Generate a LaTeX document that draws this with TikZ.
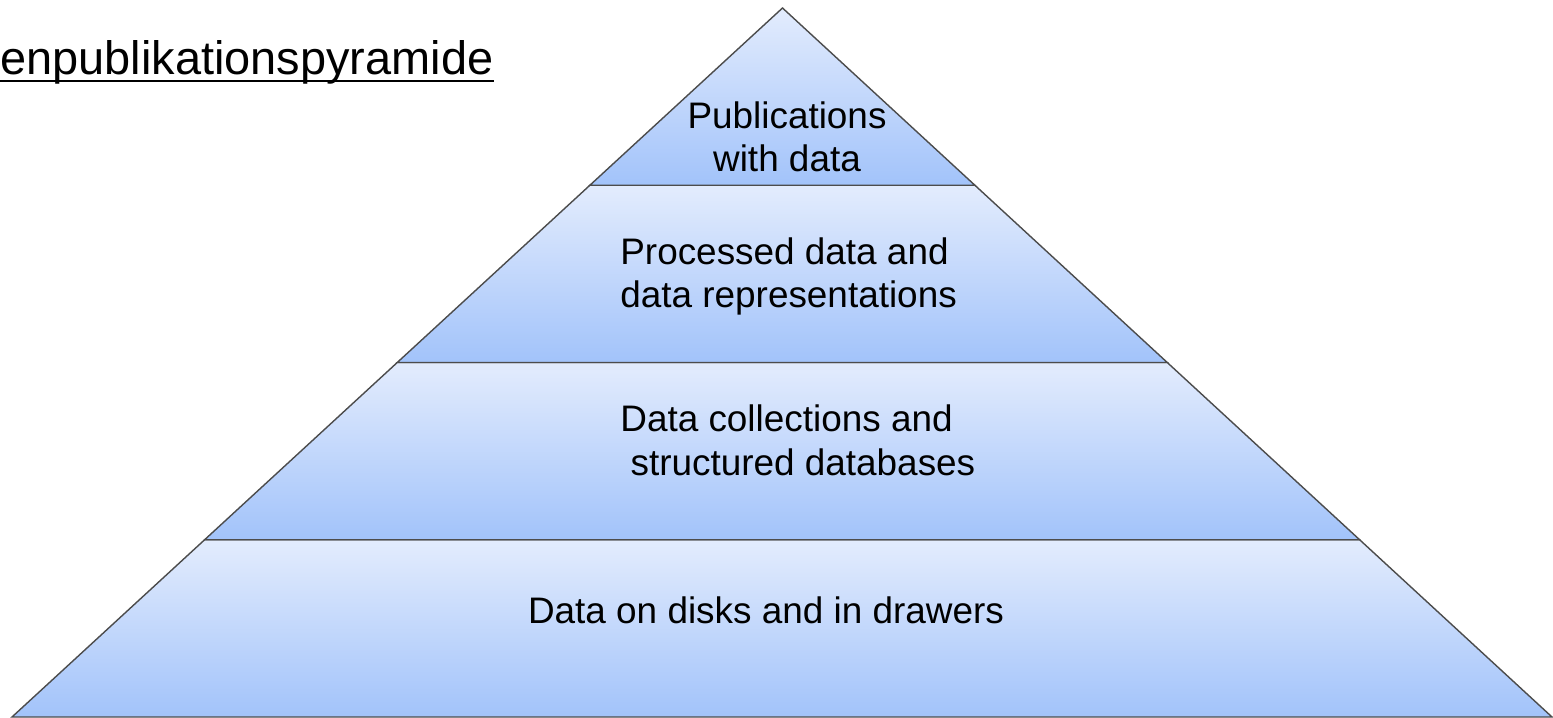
\documentclass[tikz,border=0pt]{standalone}
\usepackage{fontspec}
\setmainfont{Liberation Sans}
\usepackage{tikz}
\usetikzlibrary{calc}

\definecolor{bandtop}{RGB}{227,236,253}
\definecolor{bandbot}{RGB}{162,195,250}

\begin{document}
\begin{tikzpicture}[
		layer/.style={draw=black!70, line width=0.8pt, top color=bandtop, bottom color=bandbot},
		layertext/.style={inner sep=0pt, font=\fontsize{21}{25}\selectfont}
	]
	\useasboundingbox (0,0) rectangle (31.06,14.34);

	\coordinate (bl)   at (0.24,0);
	\coordinate (br)   at (31.04,0);
	\coordinate (apex) at (15.65,14.18);

	% the three lower layers
	\foreach \lo/\hi in {0/0.25, 0.25/0.5, 0.5/0.75}
		\draw[layer] ($(bl)!\lo!(apex)$) -- ($(br)!\lo!(apex)$)
			-- ($(br)!\hi!(apex)$) -- ($(bl)!\hi!(apex)$) -- cycle;
	% the tip
	\draw[layer] ($(bl)!0.75!(apex)$) -- ($(br)!0.75!(apex)$) -- (apex) -- cycle;

	\node[layertext, anchor=base, align=center]     (pub)  at (15.74,10.90) {Publications\\with data};
	\node[layertext, anchor=base west, align=left]  (proc) at (12.40,8.18)  {Processed data and\\data representations};
	\node[layertext, anchor=base west, align=left]  (coll) at (12.40,4.84)  {Data collections and\\\ structured databases};
	\node[layertext, anchor=base]                   (disk) at (15.32,1.88)  {Data on disks and in drawers};

	\node[inner sep=0pt, anchor=base west, font=\fontsize{26.7}{32}\selectfont] (title) at (0,12.84) {enpublikationspyramide};
	\draw[line width=1.6pt] ([yshift=-0.12cm]title.base west) -- ([yshift=-0.12cm]title.base east);
\end{tikzpicture}
\end{document}
